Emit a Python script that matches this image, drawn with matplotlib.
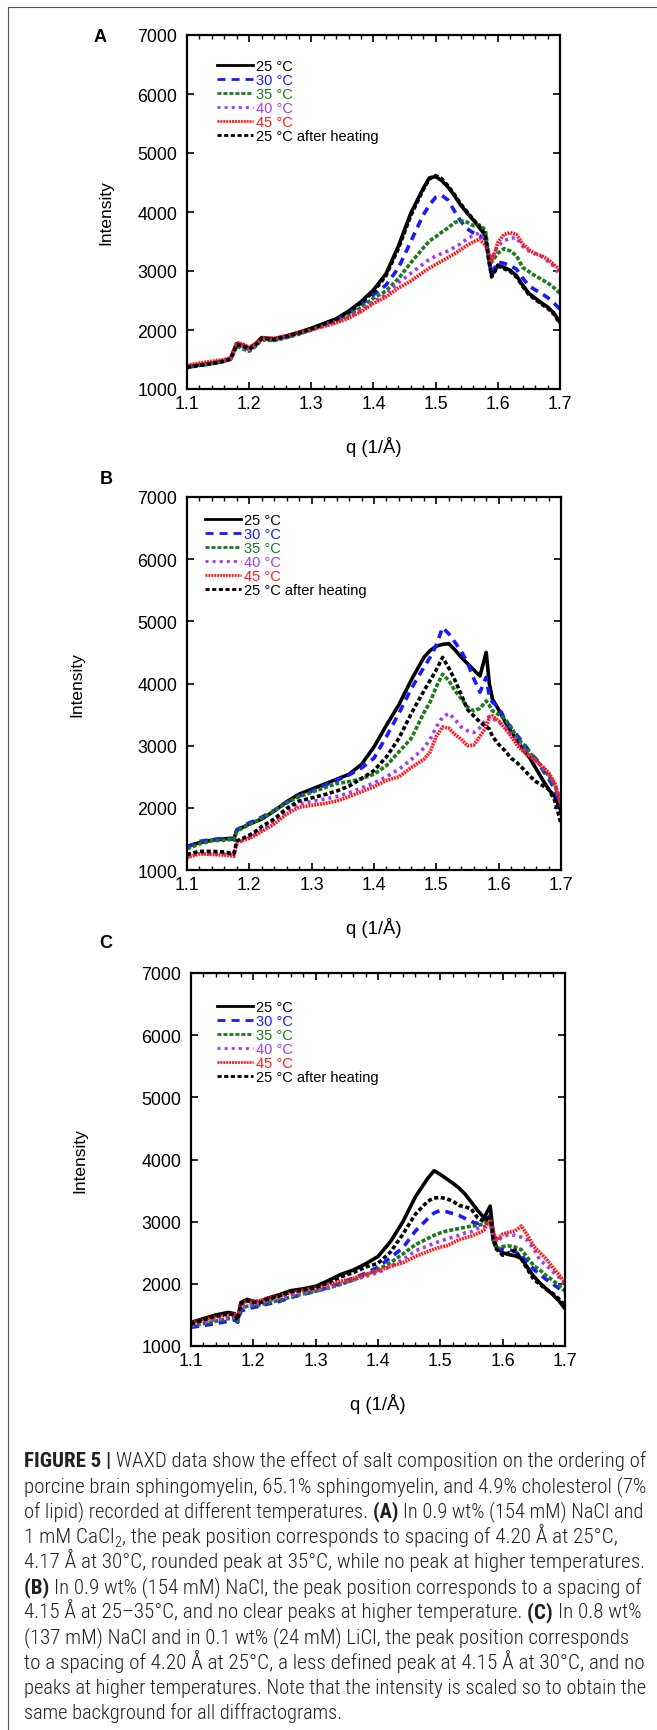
import matplotlib
matplotlib.use("Agg")
import matplotlib.pyplot as plt
import matplotlib.font_manager as fm
from matplotlib.lines import Line2D
from matplotlib.ticker import MultipleLocator, FormatStrFormatter

plt.rcParams['font.family'] = ['Liberation Sans', 'DejaVu Sans']
plt.rcParams['lines.scale_dashes'] = False

# ---------------- data ----------------
q = [1.10, 1.12, 1.14, 1.16, 1.17, 1.175, 1.18, 1.19, 1.20, 1.21,
     1.22, 1.24, 1.26, 1.28, 1.30, 1.32, 1.34, 1.36, 1.38, 1.40,
     1.42, 1.44, 1.46, 1.48, 1.49, 1.50, 1.51, 1.52, 1.53, 1.54,
     1.55, 1.56, 1.57, 1.58, 1.585, 1.59, 1.60, 1.61, 1.62, 1.63,
     1.64, 1.65, 1.66, 1.67, 1.68, 1.69, 1.70]

series_labels = ["25 °C", "30 °C", "35 °C", "40 °C", "45 °C", "25 °C after heating"]

# Panel A
A_25 = [1380, 1410, 1440, 1480, 1520, 1640, 1770, 1740, 1690, 1760,
        1870, 1850, 1900, 1960, 2030, 2110, 2190, 2320, 2480, 2680,
        2950, 3420, 3980, 4400, 4580, 4600, 4530, 4420, 4280, 4120,
        3990, 3870, 3740, 3600, 3250, 2930, 3100, 3060, 3010, 2920,
        2760, 2620, 2540, 2460, 2390, 2290, 2130]
A_30 = [1370, 1400, 1430, 1470, 1510, 1620, 1750, 1720, 1670, 1740,
        1850, 1830, 1880, 1940, 2010, 2090, 2170, 2290, 2430, 2600,
        2760, 3050, 3500, 3950, 4120, 4250, 4280, 4200, 4020, 3850,
        3720, 3650, 3600, 3550, 3250, 2960, 3150, 3130, 3090, 3030,
        2880, 2750, 2680, 2620, 2550, 2460, 2350]
A_35 = [1360, 1400, 1430, 1470, 1500, 1600, 1730, 1680, 1640, 1720,
        1830, 1820, 1870, 1930, 2000, 2080, 2150, 2260, 2380, 2540,
        2660, 2870, 3140, 3390, 3510, 3580, 3660, 3730, 3820, 3850,
        3830, 3770, 3780, 3700, 3300, 3150, 3300, 3380, 3340, 3260,
        3060, 2990, 2920, 2860, 2800, 2720, 2620]
A_40 = [1370, 1410, 1440, 1480, 1510, 1620, 1750, 1720, 1670, 1740,
        1850, 1830, 1880, 1940, 2000, 2070, 2140, 2220, 2330, 2480,
        2600, 2800, 2960, 3120, 3200, 3250, 3300, 3340, 3400, 3460,
        3540, 3600, 3640, 3520, 3350, 3200, 3430, 3510, 3560, 3560,
        3420, 3340, 3300, 3250, 3170, 3080, 2920]
A_45 = [1400, 1440, 1470, 1500, 1530, 1660, 1790, 1760, 1710, 1770,
        1870, 1860, 1900, 1960, 2010, 2060, 2120, 2200, 2310, 2450,
        2560, 2710, 2830, 2980, 3050, 3110, 3170, 3230, 3290, 3360,
        3430, 3490, 3540, 3440, 3300, 3150, 3480, 3620, 3650, 3620,
        3460, 3360, 3290, 3260, 3200, 3110, 3020]
A_25h = [1370, 1400, 1430, 1470, 1510, 1620, 1750, 1730, 1680, 1740,
         1860, 1840, 1890, 1950, 2020, 2100, 2180, 2310, 2460, 2650,
         2920, 3380, 3940, 4380, 4560, 4620, 4560, 4440, 4300, 4140,
         4010, 3880, 3760, 3620, 3200, 2900, 3080, 3040, 2990, 2900,
         2740, 2600, 2520, 2440, 2370, 2270, 2110]

# Panel B
B_25 = [1380, 1440, 1480, 1500, 1510, 1500, 1640, 1690, 1740, 1780,
        1820, 1950, 2100, 2220, 2300, 2380, 2460, 2540, 2700, 2980,
        3330, 3660, 4060, 4420, 4530, 4600, 4630, 4640, 4540, 4420,
        4320, 4220, 4120, 4500, 4000, 3750, 3580, 3390, 3230, 3080,
        2930, 2800, 2630, 2460, 2300, 2180, 1950]
B_30 = [1360, 1460, 1490, 1510, 1500, 1490, 1650, 1700, 1760, 1800,
        1850, 1960, 2090, 2190, 2270, 2360, 2440, 2530, 2640, 2800,
        3150, 3520, 3920, 4260, 4420, 4620, 4900, 4800, 4660, 4520,
        4330, 4080, 3860, 4100, 3800, 3700, 3620, 3420, 3280, 3160,
        3040, 2900, 2780, 2620, 2470, 2300, 2000]
B_35 = [1340, 1420, 1470, 1480, 1490, 1480, 1620, 1680, 1730, 1780,
        1830, 1950, 2080, 2180, 2250, 2320, 2390, 2420, 2470, 2540,
        2680, 2900, 3120, 3530, 3700, 3950, 4150, 4050, 3880, 3760,
        3620, 3560, 3600, 3720, 3650, 3560, 3500, 3430, 3300, 3120,
        3020, 2880, 2790, 2640, 2520, 2360, 2100]
B_40 = [1220, 1270, 1260, 1260, 1250, 1240, 1420, 1480, 1520, 1580,
        1650, 1780, 1950, 2060, 2100, 2140, 2180, 2240, 2320, 2400,
        2500, 2620, 2780, 2960, 3100, 3300, 3460, 3520, 3420, 3300,
        3240, 3210, 3290, 3420, 3470, 3440, 3380, 3300, 3180, 3080,
        2940, 2840, 2760, 2660, 2540, 2380, 2050]
B_45 = [1200, 1260, 1250, 1240, 1230, 1220, 1440, 1480, 1510, 1560,
        1620, 1740, 1900, 2010, 2040, 2070, 2110, 2180, 2260, 2340,
        2440, 2500, 2650, 2780, 2900, 3150, 3300, 3280, 3180, 3100,
        3000, 3010, 3150, 3300, 3450, 3480, 3400, 3280, 3150, 3000,
        2900, 2830, 2750, 2670, 2570, 2400, 2050]
B_25h = [1250, 1300, 1300, 1290, 1270, 1260, 1470, 1510, 1560, 1620,
         1700, 1820, 1990, 2110, 2160, 2210, 2270, 2350, 2470, 2600,
         2820, 3120, 3520, 3880, 4050, 4220, 4420, 4250, 4050, 3820,
         3580, 3480, 3380, 3300, 3270, 3150, 3020, 2920, 2800, 2720,
         2620, 2510, 2420, 2360, 2300, 2120, 1750]

# Panel C
C_25 = [1380, 1440, 1500, 1540, 1520, 1430, 1700, 1750, 1720, 1700,
        1760, 1820, 1890, 1920, 1960, 2050, 2150, 2220, 2320, 2440,
        2680, 3000, 3400, 3700, 3820, 3760, 3690, 3620, 3540, 3440,
        3310, 3180, 3060, 3250, 2800, 2580, 2500, 2470, 2450, 2410,
        2260, 2120, 2010, 1920, 1830, 1730, 1600]
C_30 = [1300, 1330, 1360, 1400, 1420, 1380, 1560, 1600, 1620, 1640,
        1670, 1710, 1780, 1830, 1880, 1940, 2010, 2090, 2170, 2270,
        2420, 2580, 2850, 3050, 3140, 3180, 3160, 3130, 3100, 3050,
        3000, 2970, 2990, 3100, 2700, 2560, 2560, 2550, 2520, 2450,
        2350, 2230, 2150, 2070, 2000, 1930, 1850]
C_35 = [1320, 1360, 1400, 1440, 1450, 1400, 1600, 1640, 1650, 1660,
        1690, 1730, 1790, 1840, 1880, 1930, 1990, 2060, 2140, 2230,
        2340, 2480, 2630, 2730, 2780, 2820, 2850, 2870, 2890, 2910,
        2930, 2940, 2960, 3020, 2700, 2560, 2600, 2610, 2590, 2550,
        2420, 2290, 2220, 2130, 2060, 1980, 1880]
C_40 = [1330, 1380, 1420, 1460, 1470, 1420, 1620, 1660, 1670, 1690,
        1720, 1760, 1810, 1850, 1890, 1940, 2000, 2060, 2120, 2180,
        2280, 2390, 2530, 2610, 2650, 2690, 2720, 2750, 2780, 2820,
        2840, 2890, 2920, 2940, 2800, 2680, 2760, 2790, 2780, 2750,
        2700, 2560, 2380, 2300, 2200, 2110, 1980]
C_45 = [1370, 1420, 1470, 1500, 1510, 1460, 1680, 1720, 1720, 1730,
        1760, 1800, 1860, 1900, 1940, 1990, 2040, 2090, 2150, 2210,
        2280, 2340, 2440, 2520, 2560, 2590, 2610, 2660, 2710, 2740,
        2770, 2810, 2860, 3050, 2850, 2700, 2800, 2830, 2850, 2930,
        2780, 2600, 2500, 2400, 2270, 2150, 2020]
C_25h = [1350, 1420, 1480, 1520, 1500, 1420, 1680, 1730, 1700, 1690,
         1740, 1800, 1870, 1900, 1940, 2020, 2110, 2180, 2270, 2330,
         2510, 2800, 3120, 3330, 3380, 3390, 3370, 3330, 3260, 3240,
         3200, 3060, 3000, 3100, 2700, 2560, 2460, 2500, 2540, 2400,
         2230, 2070, 1990, 1910, 1850, 1760, 1650]

x_ticks_major = 0.1
x_ticks_minor = 0.02
y_ticks_major = 1000

cap_lines = [
    [("FIGURE 5 | ", "b"), ("WAXD data show the effect of salt composition on the ordering of", "r")],
    [("porcine brain sphingomyelin, 65.1% sphingomyelin, and 4.9% cholesterol (7%", "r")],
    [("of lipid) recorded at different temperatures. ", "r"), ("(A) ", "b"), ("In 0.9 wt% (154 mM) NaCl and", "r")],
    [("1 mM CaCl", "r"), ("2", "sub"), (", the peak position corresponds to spacing of 4.20 Å at 25°C,", "r")],
    [("4.17 Å at 30°C, rounded peak at 35°C, while no peak at higher temperatures.", "r")],
    [("(B) ", "b"), ("In 0.9 wt% (154 mM) NaCl, the peak position corresponds to a spacing of", "r")],
    [("4.15 Å at 25–35°C, and no clear peaks at higher temperature. ", "r"), ("(C) ", "b"), ("In 0.8 wt%", "r")],
    [("(137 mM) NaCl and in 0.1 wt% (24 mM) LiCl, the peak position corresponds", "r")],
    [("to a spacing of 4.20 Å at 25°C, a less defined peak at 4.15 Å at 30°C, and no", "r")],
    [("peaks at higher temperatures. Note that the intensity is scaled so to obtain the", "r")],
    [("same background for all diffractograms.", "r")],
]
# right end (px) of each caption line in the reference layout
cap_right = [648, 648, 646, 620, 648, 645, 643, 632, 648, 648, 343]

# ---------------- figure ----------------
W, H = 657, 1731
fig = plt.figure(figsize=(W / 100, H / 100), dpi=100)
fig.patch.set_facecolor('white')

colors = ['#000000', '#1a1aff', '#1b7a1b', '#a23cf0', '#ff1a1a', '#000000']
linestyles = ['-', (0, (5.8, 4.3)), (0, (2.9, 1.4)), (0, (2.2, 2.9)),
              (0, (1.4, 0.7)), (0, (3.0, 1.8))]

panels = [
    dict(letter='A', box=(187, 36, 560, 390), data=[A_25, A_30, A_35, A_40, A_45, A_25h],
         leg=(0.0804, 0.9325), ylab_x=106, let_xy=(100, 37)),
    dict(letter='B', box=(187, 498, 561, 871), data=[B_25, B_30, B_35, B_40, B_45, B_25h],
         leg=(0.0481, 0.9574), ylab_x=77, let_xy=(106, 480)),
    dict(letter='C', box=(191, 974, 565, 1347), data=[C_25, C_30, C_35, C_40, C_45, C_25h],
         leg=(0.0695, 0.9271), ylab_x=80, let_xy=(106, 944)),
]

for p in panels:
    l, t, r, b = p['box']
    ax = fig.add_axes([l / W, 1 - b / H, (r - l) / W, (b - t) / H])
    for y, lab, c, ls in zip(p['data'], series_labels, colors, linestyles):
        ax.plot(q, y, color=c, lw=2.6, ls=ls, label=lab)
    ax.set_xlim(1.1, 1.7)
    ax.set_ylim(1000, 7000)
    ax.xaxis.set_major_locator(MultipleLocator(x_ticks_major))
    ax.xaxis.set_minor_locator(MultipleLocator(x_ticks_minor))
    ax.yaxis.set_major_locator(MultipleLocator(y_ticks_major))
    ax.xaxis.set_major_formatter(FormatStrFormatter('%.1f'))
    ax.tick_params(which='both', direction='in', top=True, right=True, color='black')
    ax.tick_params(which='major', length=5, width=1.2, labelsize=12.8)
    ax.tick_params(which='minor', length=3, width=1.0)
    ax.tick_params(axis='x', which='major', pad=4)
    ax.tick_params(axis='y', which='major', pad=7)
    for s in ax.spines.values():
        s.set_linewidth(1.6)
    ax.set_xlabel('q (1/Å)', fontsize=13.3)
    ax.xaxis.set_label_coords(0.5, -57 / (b - t))
    ax.xaxis.label.set_verticalalignment('center')
    ax.set_ylabel('Intensity', fontsize=12.5)
    ax.yaxis.set_label_coords((p['ylab_x'] - l) / (r - l), 0.5)
    ax.yaxis.label.set_verticalalignment('center')
    leg = ax.legend(loc='upper left', bbox_to_anchor=p['leg'], frameon=False, fontsize=10.5,
                    handlelength=2.45, handletextpad=0.2, labelspacing=0.0, borderpad=0,
                    borderaxespad=0, labelcolor='linecolor')
    for hl in leg.get_lines():
        hl.set_linewidth(2.0)
    lx, ly = p['let_xy']
    fig.text(lx / W, 1 - ly / H, p['letter'], fontsize=13, fontweight='bold',
             ha='center', va='center')

# frame lines (left and top)
fig.add_artist(Line2D([7.5 / W, 7.5 / W], [0, 1 - 8 / H], transform=fig.transFigure,
                      color='#555555', lw=0.8))
fig.add_artist(Line2D([7.5 / W, 1], [1 - 8 / H, 1 - 8 / H], transform=fig.transFigure,
                      color='#555555', lw=0.8))

# ---------------- caption ----------------
def has_font(name):
    try:
        fm.findfont(fm.FontProperties(family=name), fallback_to_default=False)
        return True
    except Exception:
        return False

cap_family = 'Liberation Sans'
for cand in ['Roboto Condensed', 'Liberation Sans Narrow', 'Liberation Sans']:
    if has_font(cand):
        cap_family = cand
        break

renderer = fig.canvas.get_renderer()

def props(style, size):
    if style == 'b':
        return fm.FontProperties(family=cap_family, weight='bold', size=size)
    if style == 'sub':
        return fm.FontProperties(family=cap_family, weight=300, size=size * 0.68)
    return fm.FontProperties(family=cap_family, weight=300, size=size)

def adv(text, fp):
    w1 = renderer.get_text_width_height_descent("|" + text + "|", fp, ismath=False)[0]
    w0 = renderer.get_text_width_height_descent("||", fp, ismath=False)[0]
    return w1 - w0

base = 10.0
w_first = sum(adv(tx, props(st, base)) for tx, st in cap_lines[0])
cap_size = base * (648 - 24) / w_first

for k, runs in enumerate(cap_lines):
    natural = sum(adv(tx, props(st, cap_size)) for tx, st in runs)
    size_k = cap_size * (cap_right[k] - 24) / natural
    size_k = min(size_k, cap_size * 1.04)
    x = 24.0
    yb = 1467 + 25.2 * k
    for tx, st in runs:
        fp = props(st, size_k)
        dy = 0.22 * size_k * 100 / 72 if st == 'sub' else 0.0
        fig.text(x / W, 1 - (yb + dy) / H, tx, fontproperties=fp, ha='left',
                 va='baseline', color='#231f20')
        x += adv(tx, fp)

fig.savefig('out.png', dpi=100)
